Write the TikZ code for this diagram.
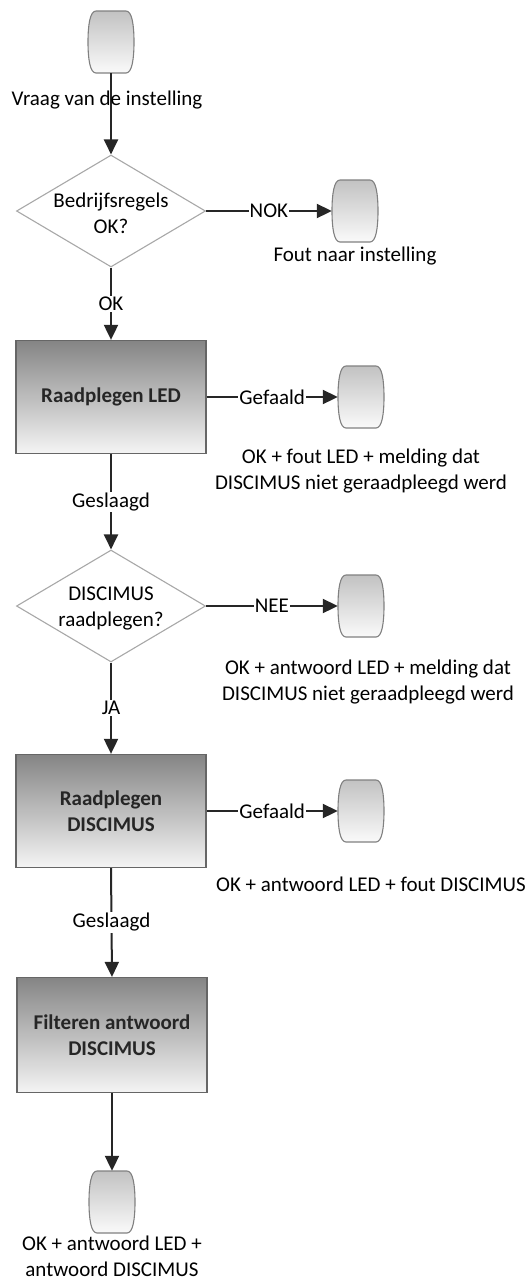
\documentclass[tikz,border=0pt]{standalone}
\usepackage{fontspec}
\setmainfont{Carlito}
\usetikzlibrary{shapes.geometric,arrows.meta}
\definecolor{lineC}{HTML}{262626}
\definecolor{boxTop}{HTML}{858585}
\definecolor{boxBot}{HTML}{F4F4F4}
\definecolor{boxEdge}{HTML}{666666}
\definecolor{termTop}{HTML}{C2C2C2}
\definecolor{termBot}{HTML}{FAFAFA}
\definecolor{termEdge}{HTML}{808080}
\definecolor{diaEdge}{HTML}{A8A8A8}
\tikzset{
  x=1pt, y=1pt,
  txt/.style={font=\fontsize{21}{26}\selectfont, text=black, align=center, inner sep=1pt},
  procbox/.style={rectangle, draw=boxEdge, line width=1.3pt, top color=boxTop, bottom color=boxBot,
     minimum width=190pt, minimum height=113pt, inner sep=0pt, txt, font=\fontsize{21}{26}\selectfont\bfseries, text=black!85},
  decision/.style={diamond, draw=diaEdge, line width=1.1pt, fill=white, minimum width=189pt,
     minimum height=112pt, inner sep=0pt},
  term/.style={rectangle, minimum width=46pt, minimum height=62pt, inner sep=0pt},
  barrel/.style={draw=termEdge, line width=1.1pt, top color=termTop, bottom color=termBot},
  flow/.style={draw=lineC, line width=2pt, -{Triangle[length=15pt,width=14pt]}},
  lbl/.style={txt, fill=white, inner sep=1pt},
  lblclear/.style={txt, inner sep=1pt}
}
\begin{document}
\begin{tikzpicture}
\useasboundingbox (0,0) rectangle (532,-1280);

% nodes
\node[term] (t0) at (111,-42) {};
\node[decision] (d1) at (111,-211) {};
\node[txt] (d1t) at (111,-213) {Bedrijfsregels\\OK?};
\node[term] (t1) at (355,-211) {};
\node[txt] (t1t) at (355,-256) {Fout naar instelling};

\node[procbox] (b1) at (111,-397) {Raadplegen LED};
\node[term] (t2) at (361,-397) {};
\node[txt] (t2t) at (361,-471) {OK + fout LED + melding dat\\DISCIMUS niet geraadpleegd werd};

\node[decision] (d2) at (111,-606) {};
\node[txt] (d2t) at (111,-608) {DISCIMUS\\raadplegen?};
\node[term] (t3) at (361,-606) {};
\node[txt] (t3t) at (368,-682) {OK + antwoord LED + melding dat\\DISCIMUS niet geraadpleegd werd};

\node[procbox] (b2) at (111,-811) {Raadplegen\\DISCIMUS};
\node[term] (t4) at (361,-811) {};
\node[txt] (t4t) at (371,-884) {OK + antwoord LED + fout DISCIMUS};

\node[procbox, minimum height=115pt] (b3) at (112,-1035) {Filteren antwoord\\DISCIMUS};
\node[term] (t5) at (112,-1202) {};
\node[txt] (t5t) at (112,-1256) {OK + antwoord LED +\\antwoord DISCIMUS};

% terminal barrels
\foreach \n in {t0,t1,t2,t3,t4,t5}{
  \begin{scope}[shift={(\n.center)}]
    \path[barrel] (-15,31) -- (15,31) .. controls (21,31) and (23,17) .. (23,0)
      .. controls (23,-17) and (21,-31) .. (15,-31) -- (-15,-31)
      .. controls (-21,-31) and (-23,-17) .. (-23,0)
      .. controls (-23,17) and (-21,31) .. (-15,31) -- cycle;
  \end{scope}
}

% connectors
\draw[flow] (t0.south) -- node[lblclear, pos=0.33, xshift=-4pt] {Vraag van de instelling} (d1.north);
\draw[flow] (d1.east) -- node[lbl] {NOK} (t1.west);
\draw[flow] (d1.south) -- node[lbl, pos=0.5] {OK} (b1.north);
\draw[flow] (b1.east) -- node[lbl] {Gefaald} (t2.west);
\draw[flow] (b1.south) -- node[lbl] {Geslaagd} (d2.north);
\draw[flow] (d2.east) -- node[lbl] {NEE} (t3.west);
\draw[flow] (d2.south) -- node[lbl] {JA} (b2.north);
\draw[flow] (b2.east) -- node[lbl] {Gefaald} (t4.west);
\draw[flow] (b2.south) -- node[lbl] {Geslaagd} (b3.north);
\draw[flow] (b3.south) -- (t5.north);
\end{tikzpicture}
\end{document}
